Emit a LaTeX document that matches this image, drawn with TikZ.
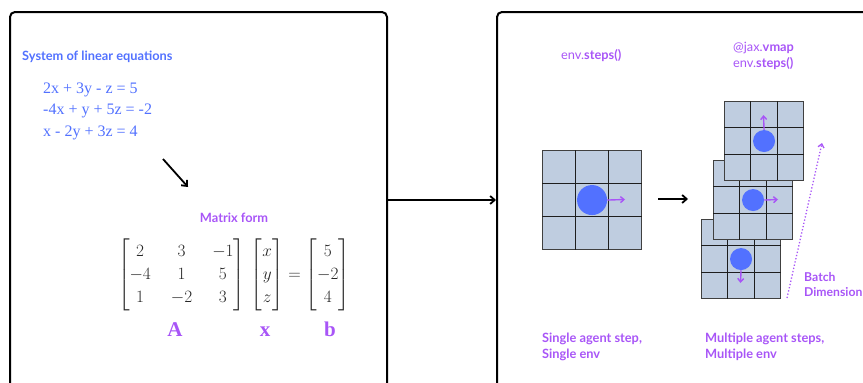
\documentclass[tikz,border=0pt]{standalone}
\usepackage{amsmath}
\usepackage{fontspec}
\setmainfont{Liberation Serif}
\newfontfamily\lato{Lato}
\usetikzlibrary{arrows.meta,calc}
\definecolor{cblue}{HTML}{5271FF}
\definecolor{cpurp}{HTML}{A855F7}
\definecolor{cgrid}{HTML}{BFCDE0}
\definecolor{cline}{HTML}{1E1E1E}
\newcommand\mygrid[4]{%
  \node[gridbox, minimum size=#4, anchor=north west] (#1) at (#2,#3) {};
  \foreach \k in {1,2} {
    \draw[gridline] ($(#1.north west)!\k/3!(#1.north east)$) -- ($(#1.south west)!\k/3!(#1.south east)$);
    \draw[gridline] ($(#1.north west)!\k/3!(#1.south west)$) -- ($(#1.north east)!\k/3!(#1.south east)$);
  }
}
\begin{document}
\begin{tikzpicture}[x=1pt,y=-1pt,
  panel/.style={draw=black, line width=2pt, rounded corners=5pt, anchor=north west, inner sep=0, minimum height=376},
  gridbox/.style={draw=black!75, fill=cgrid, line width=1.1pt, inner sep=0},
  gridline/.style={draw=cline, line width=0.9pt},
  agent/.style={circle, fill=cblue, inner sep=0},
  move/.style={draw=cpurp, line width=1.4pt, -{Straight Barb[length=3.5pt,width=6pt]}},
  bigarrow/.style={draw=black, line width=1.8pt, -{Straight Barb[length=4.5pt,width=8pt]}},
  sans/.style={font=\lato\bfseries\fontsize{12.8}{15}\selectfont, anchor=base west, inner sep=0},
  ptext/.style={sans, text=cpurp},
  btext/.style={sans, text=cblue},
  eqtext/.style={font=\fontsize{16}{19}\selectfont, text=cblue, anchor=base west, inner sep=0},
  varlbl/.style={font=\bfseries\fontsize{21}{24}\selectfont, text=cpurp, anchor=base, inner sep=0}
]
\useasboundingbox (0,0) rectangle (863,383);
\clip (0,0) rectangle (863,383);

% panels
\node[panel, minimum width=377] (left) at (9,11) {};
\node[panel, minimum width=420] (right) at (496,11) {};
\draw[bigarrow] (left.east) -- (right.west);

% left panel
\node[btext] (sys) at (22,60) {System of linear equations};
\node[eqtext] (e1) at (43,93) {2x + 3y - z = 5};
\node[eqtext] (e2) at (43,114) {-4x + y + 5z = -2};
\node[eqtext] (e3) at (43,136) {x - 2y + 3z = 4};
\coordinate (da) at (163,159);
\coordinate (db) at (188,187);
\draw[bigarrow] (da) -- (db);
\node[ptext, anchor=base] (mf) at (234,222) {Matrix form};
\node[inner sep=0, font=\fontsize{17}{20}\selectfont, text=black!85] (mat) at (234,275)
 {$\setlength\arraycolsep{10pt}\renewcommand\arraystretch{1.15}%
   \begin{bmatrix}2&3&-1\\-4&1&5\\1&-2&3\end{bmatrix}\,
   \begin{bmatrix}x\\y\\z\end{bmatrix}=
   \begin{bmatrix}5\\-2\\4\end{bmatrix}$};
\node[varlbl] (vA) at (175,336) {A};
\node[varlbl] (vx) at (265,336) {x};
\node[varlbl] (vb) at (330,336) {b};

% right panel texts
\node[ptext] (t1) at (561,59) {\mdseries env.\bfseries steps()};
\node[ptext] (t2) at (733,51) {\mdseries @jax.\bfseries vmap};
\node[ptext] (t3) at (733,67) {\mdseries env.\bfseries steps()};

% single grid
\mygrid{g1}{542}{150}{99}
\node[agent, minimum size=30] (a1) at (g1.center) {};
\coordinate (m1) at (625,199.5);
\draw[move] (a1.east) -- (m1);

\coordinate (sa) at (658,199);
\coordinate (sb) at (688,199);
\draw[bigarrow] (sa) -- (sb);

% stacked grids
\mygrid{g4}{701}{219}{79}
\node[agent, minimum size=22] (a4) at (g4.center) {};
\coordinate (m4) at (740.5,283);
\draw[move] (a4.south) -- (m4);

\mygrid{g3}{713}{160}{79}
\node[agent, minimum size=22] (a3) at (g3.center) {};
\coordinate (m3) at (778,199.5);
\draw[move] (a3.east) -- (m3);

\mygrid{g2}{724}{101}{79}
\node[agent, minimum size=22] (a2) at (g2.center) {};
\coordinate (m2) at (763.5,115);
\draw[move] (a2.north) -- (m2);

% batch dimension
\coordinate (bd0) at (787,298);
\coordinate (bd1) at (822,143);
\draw[cpurp, line width=1.3pt, dotted, -{Straight Barb[length=3.5pt,width=6pt]}] (bd0) -- (bd1);
\node[ptext, font=\lato\bfseries\fontsize{12.2}{15}\selectfont] (bt1) at (804,281) {Batch};
\node[ptext, font=\lato\bfseries\fontsize{12.2}{15}\selectfont] (bt2) at (804,296) {Dimension};

\node[ptext] (c1) at (542,342) {Single agent step,};
\node[ptext] (c2) at (542,358) {Single env};
\node[ptext] (c3) at (705,342) {Multiple agent steps,};
\node[ptext] (c4) at (705,358) {Multiple env};
\end{tikzpicture}
\end{document}
